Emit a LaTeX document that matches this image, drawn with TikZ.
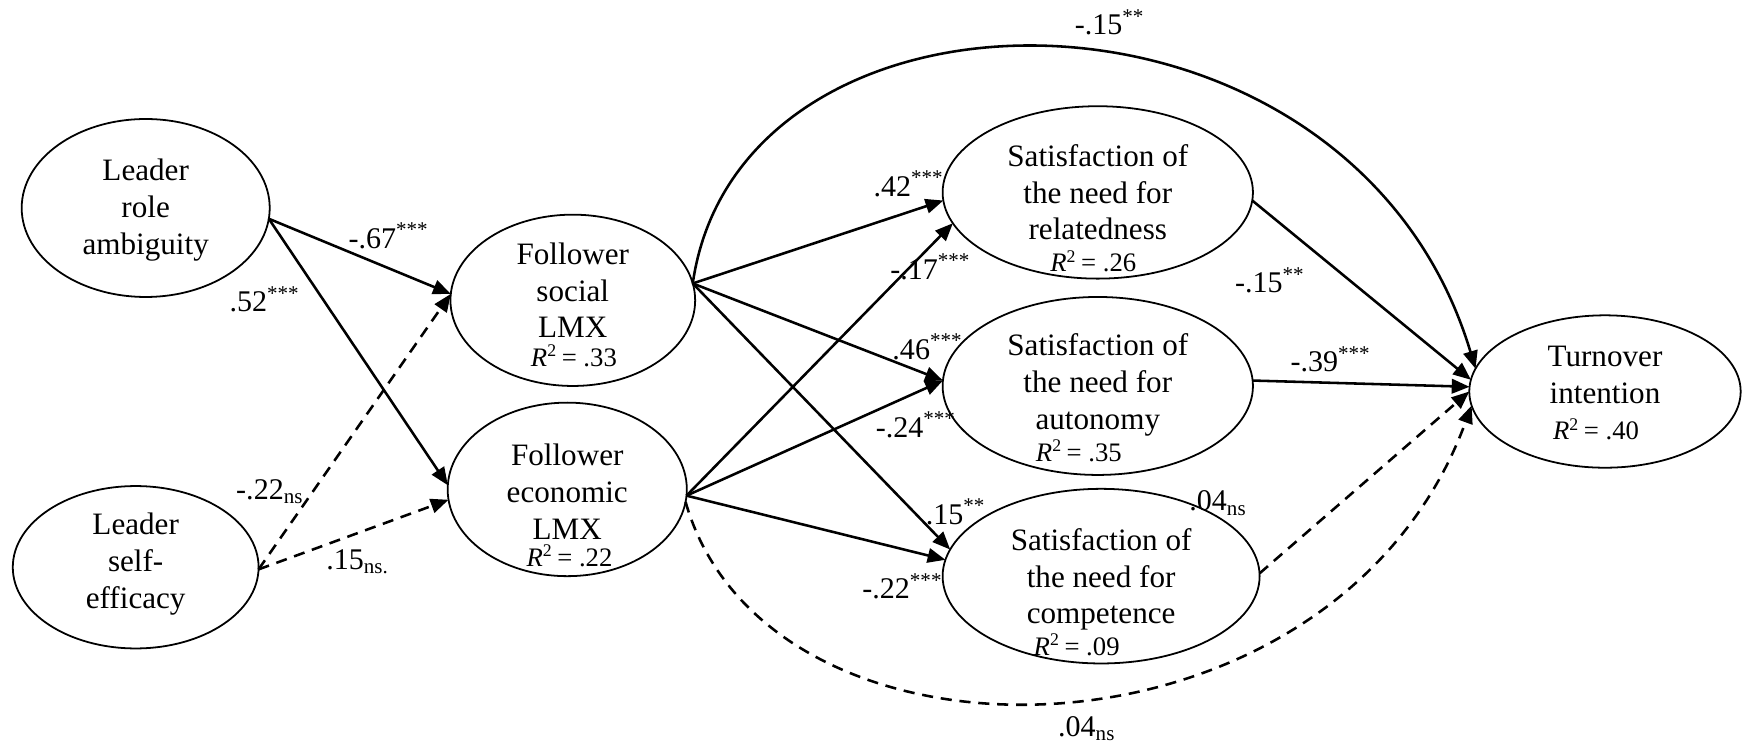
\documentclass[tikz,border=0pt]{standalone}
\usepackage{fontspec}
\setmainfont{Liberation Serif}
\usetikzlibrary{arrows.meta,shapes.geometric}
\begin{document}
\begin{tikzpicture}[x=0.5pt,y=-0.5pt,
  ell/.style={draw,ellipse,line width=0.8pt,inner sep=0pt,outer sep=0pt},
  txt/.style={align=center,font=\fontsize{14}{16.5}\selectfont,inner sep=0pt},
  rsq/.style={font=\fontsize{12}{14}\selectfont,inner sep=0pt},
  lab/.style={anchor=west,font=\fontsize{13.5}{16}\selectfont,inner sep=0pt},
  conn/.style={line width=1.15pt,-{Triangle[length=8pt,width=6.5pt]}},
  dconn/.style={conn,dash pattern=on 5pt off 3.5pt}]
\useasboundingbox (0,0) rectangle (1568,669);
% ellipses
\node[ell,minimum width=111.5pt,minimum height=80pt] (lra) at (131,187) {};
\node[ell,minimum width=110.5pt,minimum height=73pt] (lse) at (122,510) {};
\node[ell,minimum width=110pt,minimum height=77pt] (fsl) at (515,270) {};
\node[ell,minimum width=107.5pt,minimum height=78pt] (fel) at (510,440) {};
\node[ell,minimum width=139.5pt,minimum height=77.5pt] (rel) at (987,173) {};
\node[ell,minimum width=139.5pt,minimum height=80pt] (aut) at (987,347) {};
\node[ell,minimum width=142.5pt,minimum height=78.5pt] (com) at (990,518) {};
\node[ell,minimum width=122pt,minimum height=68.5pt] (tur) at (1443,352) {};
% texts
\node[txt] (lraT) at (131,189) {Leader\\role\\ambiguity};
\node[txt] (lseT) at (122,507) {Leader\\self-\\efficacy};
\node[txt] (fslT) at (515,261) {Follower\\social\\LMX};
\node[txt] (felT) at (510,442) {Follower\\economic\\LMX};
\node[txt] (relT) at (987,173) {Satisfaction of\\the need for\\relatedness};
\node[txt] (autT) at (987,346) {Satisfaction of\\the need for\\autonomy};
\node[txt] (comT) at (990,521) {Satisfaction of\\the need for\\competence};
\node[txt] (turT) at (1443,337) {Turnover\\intention};
% R squared
\node[rsq] (fslR) at (516,320) {\textit{R}\textsuperscript{2}\,= .33};
\node[rsq] (felR) at (512,500) {\textit{R}\textsuperscript{2}\,= .22};
\node[rsq] (relR) at (983,235) {\textit{R}\textsuperscript{2}\,= .26};
\node[rsq] (autR) at (970,405) {\textit{R}\textsuperscript{2}\,= .35};
\node[rsq] (comR) at (968,580) {\textit{R}\textsuperscript{2}\,= .09};
\node[rsq] (turR) at (1435,386) {\textit{R}\textsuperscript{2}\,= .40};
% connectors
\draw[conn] (lra.-5) -- (fsl.177);
\draw[conn] (lra.-5) -- (fel.178);
\draw[dconn] (lse.-1) -- (fsl.177);
\draw[dconn] (lse.-1) -- (fel.185);
\draw[conn] (fsl.8) -- (rel.183);
\draw[conn] (fsl.8) -- (aut.178);
\draw[conn] (fsl.8) -- (com.170);
\draw[conn] (fel.-3) -- (rel.192);
\draw[conn] (fel.-3) -- (aut.178);
\draw[conn] (fel.-3) -- (com.174);
\draw[conn] (fsl.8) .. controls (665,-40) and (1215,-40) .. (tur.170);
\draw[dconn] (fel.-6) .. controls (690,710) and (1200,700) .. (tur.186);
\draw[conn] (rel.-3) -- (tur.175);
\draw[conn] (aut.2) -- (tur.178);
\draw[dconn] (com.1) -- (tur.180);
% labels
\node[lab] (l1) at (313,212) {-.67\textsuperscript{***}};
\node[lab] (l2) at (206,269) {.52\textsuperscript{***}};
\node[lab] (l3) at (212,442) {-.22\textsubscript{ns}};
\node[lab] (l4) at (293,505) {.15\textsubscript{ns.}};
\node[lab] (l5) at (785,165) {.42\textsuperscript{***}};
\node[lab] (l6) at (800,240) {-.17\textsuperscript{***}};
\node[lab] (l7) at (802,312) {.46\textsuperscript{***}};
\node[lab] (l8) at (787,382) {-.24\textsuperscript{***}};
\node[lab] (l9) at (832,460) {.15\textsuperscript{**}};
\node[lab] (l10) at (775,527) {-.22\textsuperscript{***}};
\node[lab] (l11) at (966,20) {-.15\textsuperscript{**}};
\node[lab] (l12) at (1110,252) {-.15\textsuperscript{**}};
\node[lab] (l13) at (1160,323) {-.39\textsuperscript{***}};
\node[lab] (l14) at (1069,452) {.04\textsubscript{ns}};
\node[lab] (l15) at (951,655) {.04\textsubscript{ns}};
\end{tikzpicture}
\end{document}
